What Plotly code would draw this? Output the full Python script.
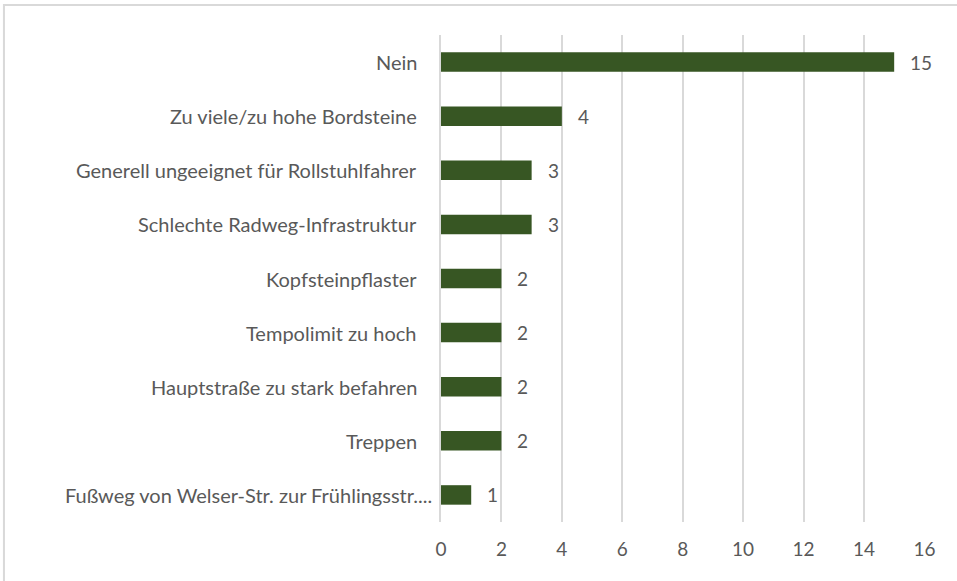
import plotly.graph_objects as go

# categories, top to bottom as in the chart
categories = [
    "Nein",
    "Zu viele/zu hohe Bordsteine",
    "Generell ungeeignet für Rollstuhlfahrer",
    "Schlechte Radweg-Infrastruktur",
    "Kopfsteinpflaster",
    "Tempolimit zu hoch",
    "Hauptstraße zu stark befahren",
    "Treppen",
    "Fußweg von Welser-Str. zur Frühlingsstr....",
]
counts = [15, 4, 3, 3, 2, 2, 2, 2, 1]
x_ticks = [0, 2, 4, 6, 8, 10, 12, 14, 16]

bar_colour = "#375623"
text_colour = "#595959"
font_name = "Lato"

fig = go.Figure()
fig.add_trace(go.Bar(
    x=counts, y=categories, orientation="h",
    marker=dict(color=bar_colour, line=dict(width=0)),
    hoverinfo="x+y",
))

# category labels and data labels as annotations (Excel-like spacing)
annotations = []
for cat, val in zip(categories, counts):
    shift = -7 if cat.endswith("....") else -22
    annotations.append(dict(x=0, y=cat, xref="x", yref="y", text=cat,
                            showarrow=False, xanchor="right", xshift=shift,
                            font=dict(family=font_name, size=20, color=text_colour)))
    annotations.append(dict(x=val, y=cat, xref="x", yref="y", text=str(val),
                            showarrow=False, xanchor="left", xshift=14,
                            font=dict(family=font_name, size=19, color=text_colour)))

fig.update_layout(
    width=957, height=581,
    margin=dict(l=441, r=32, t=35, b=59),
    paper_bgcolor="white", plot_bgcolor="white",
    bargap=0.64,
    showlegend=False,
    font=dict(family=font_name, size=19, color=text_colour),
    annotations=annotations,
    shapes=[dict(type="rect", xref="paper", yref="paper",
                 x0=-0.903, x1=1.3, y0=-0.4, y1=1.0616,
                 line=dict(color="#d9d9d9", width=2), layer="below")],
)
fig.update_xaxes(range=[0, 16.02], tickvals=x_ticks, showgrid=True,
                 gridcolor="#d9d9d9", gridwidth=1.5, zeroline=False,
                 showline=False, ticks="", ticklabelstandoff=14,
                 tickfont=dict(family=font_name, size=19, color=text_colour))
fig.update_yaxes(autorange="reversed", showticklabels=False, showgrid=False,
                 zeroline=False, showline=True, linecolor="#d9d9d9", linewidth=1.5)

fig.write_html("out.html", config={"displayModeBar": False},
               post_script="document.body.style.margin='0';document.body.style.overflow='hidden';")
